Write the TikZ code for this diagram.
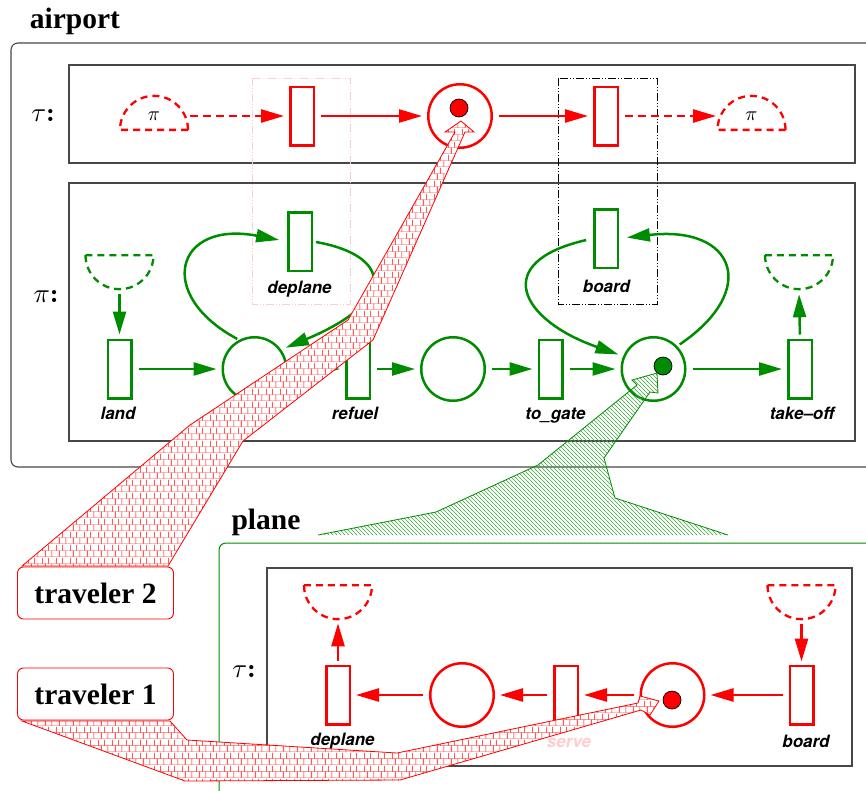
\documentclass[tikz,border=0pt]{standalone}
\usepackage{graphicx}
\usepackage{fontspec}
\newfontfamily\helv{TeX Gyre Heros}
\newfontfamily\tms{Liberation Serif}
\usetikzlibrary{arrows.meta,shapes.geometric,patterns}
\definecolor{pgreen}{RGB}{0,140,0}
\definecolor{hgreen}{RGB}{70,170,70}
\definecolor{lpink}{RGB}{255,205,205}
\definecolor{bpink}{RGB}{255,150,150}
\pgfdeclarepatterninherentlycolored{redbricks}{\pgfpointorigin}{\pgfpoint{14pt}{13pt}}{\pgfpoint{14pt}{13pt}}{%
  \pgfsetlinewidth{0.6pt}%
  \pgfsetcolor{bpink}%
  \pgfpathmoveto{\pgfpoint{0pt}{0.4pt}}\pgfpathlineto{\pgfpoint{14pt}{0.4pt}}%
  \pgfpathmoveto{\pgfpoint{0pt}{6.9pt}}\pgfpathlineto{\pgfpoint{14pt}{6.9pt}}%
  \pgfusepath{stroke}%
  \pgfsetcolor{red}%
  \pgfpathmoveto{\pgfpoint{3.5pt}{0.4pt}}\pgfpathlineto{\pgfpoint{3.5pt}{6.9pt}}%
  \pgfpathmoveto{\pgfpoint{10.5pt}{0.4pt}}\pgfpathlineto{\pgfpoint{10.5pt}{6.9pt}}%
  \pgfpathmoveto{\pgfpoint{0.4pt}{6.9pt}}\pgfpathlineto{\pgfpoint{0.4pt}{13pt}}%
  \pgfpathmoveto{\pgfpoint{7pt}{6.9pt}}\pgfpathlineto{\pgfpoint{7pt}{13pt}}%
  \pgfusepath{stroke}%
}
\pgfdeclarepatterninherentlycolored{greenhatch}{\pgfpoint{-1pt}{-1pt}}{\pgfpoint{5pt}{5pt}}{\pgfpoint{4pt}{4pt}}{%
  \pgfsetlinewidth{0.5pt}%
  \pgfsetcolor{hgreen}%
  \pgfpathmoveto{\pgfpoint{-0.5pt}{4.5pt}}\pgfpathlineto{\pgfpoint{4.5pt}{-0.5pt}}%
  \pgfusepath{stroke}%
}
\tikzset{
  box/.style={draw=black!72, line width=1.1pt},
  trans/.style={rectangle, draw, line width=2.5pt, minimum width=23.5pt, minimum height=58.5pt, inner sep=0pt},
  place/.style={circle, draw, line width=2.5pt, minimum size=63.5pt, inner sep=0pt},
  tok/.style={circle, draw=black, line width=0.7pt, minimum size=18pt, inner sep=0pt},
  half/.style={semicircle, draw, dash pattern=on 7pt off 5pt, line width=2.3pt, minimum width=62pt, minimum height=34pt, inner sep=0pt},
  arrline/.style={line width=2.5pt, -{Triangle[length=23pt,width=13pt]}, shorten >=5pt, shorten <=6pt},
  rarr/.style={arrline, draw=red, color=red},
  garr/.style={arrline, draw=pgreen, color=pgreen},
  lbl/.style={font=\helv\bfseries\itshape\fontsize{17}{17}\selectfont, anchor=base, inner sep=0pt},
  ttl/.style={font=\tms\bfseries\fontsize{29.5}{30}\selectfont, anchor=base, inner sep=0pt},
  mth/.style={inner sep=0pt},
  travbox/.style={draw=red, line width=0.9pt, rounded corners=6pt, minimum width=156pt, minimum height=52pt, inner sep=0pt, font=\tms\bfseries\fontsize{29.5}{30}\selectfont},
}
\newcommand{\biglbl}[1]{\scalebox{2.7}{$#1$\textbf{:}}}
\newcommand{\halflbl}{\scalebox{2}{$\pi$}}
\begin{document}
\begin{tikzpicture}[x=1pt,y=-1pt]
\useasboundingbox (0,0) rectangle (866,790);

% ---------------- airport ----------------
\node[ttl] (tair) at (75,28) {airport};
\draw[box, rounded corners=7pt] (11,43) rectangle (885,467);
\draw[box] (69,65) rectangle (855,163);
\draw[box] (69,183) rectangle (855,441);
\draw[lpink, line width=0.8pt, dash pattern=on 8pt off 2pt on 1pt off 2pt on 1pt off 2pt] (252,78) rectangle (350,304);
\draw[black, line width=0.9pt, dash pattern=on 8pt off 2pt on 1pt off 2pt on 1pt off 2pt] (558,78) rectangle (657,304);
\node[mth] (taulbl) at (43,116) {\biglbl{\tau}};
\node[mth] (pilbl) at (46,296) {\biglbl{\pi}};

% tau row
\node[half, draw=red, anchor=chord center] (pi1) at (154,131) {};
\node[mth] (pi1t) at (154,116) {\halflbl};
\node[trans, draw=red] (t1) at (302,116) {};
\node[place, draw=red] (pa) at (460,116) {};
\node[tok, fill=red] (pat) at (459,108) {};
\node[trans, draw=red] (t2) at (606,116) {};
\node[half, draw=red, anchor=chord center] (pi2) at (751.5,131) {};
\node[mth] (pi2t) at (751.5,116) {\halflbl};
\draw[rarr, dash pattern=on 8pt off 5pt, shorten <=4pt] (pi1.east |- t1.west) -- (t1.west);
\draw[rarr] (t1) -- (pa);
\draw[rarr] (pa) -- (t2);
\draw[rarr, dash pattern=on 8pt off 5pt, shorten >=3pt] (t2.east) -- (pi2.west |- t2.east);

% pi row
\node[half, draw=pgreen, shape border rotate=180, anchor=chord center] (gh1) at (119.5,254) {};
\node[trans, draw=pgreen] (land) at (119.5,369) {};
\node[place, draw=pgreen] (p1) at (254.5,369) {};
\node[trans, draw=pgreen] (dep) at (300,241.5) {};
\node[trans, draw=pgreen] (refuel) at (358,369) {};
\node[place, draw=pgreen] (p2) at (453,369) {};
\node[trans, draw=pgreen] (togate) at (550.5,369) {};
\node[place, draw=pgreen] (p3) at (653.5,369) {};
\node[tok, fill=pgreen] (p3t) at (663,366) {};
\node[trans, draw=pgreen] (board) at (606,238.5) {};
\node[trans, draw=pgreen] (takeoff) at (800,369) {};
\node[half, draw=pgreen, shape border rotate=180, anchor=chord center] (gh2) at (799,254) {};

\node[lbl] (lland) at (118,419) {land};
\node[lbl] (ldep) at (299.5,293) {deplane};
\node[lbl] (lrefuel) at (355,419) {refuel};
\node[lbl] (ltogate) at (555.5,419) {to\_gate};
\node[lbl] (lboard) at (606.5,292) {board};
\node[lbl] (ltake) at (802,419) {take–off};

\draw[garr, shorten <=4pt, shorten >=4pt] (gh1.apex) -- (land.north);
\draw[garr] (land) -- (p1);
\draw[garr] (p1) -- (refuel);
\draw[garr] (refuel) -- (p2);
\draw[garr] (p2) -- (togate);
\draw[garr] (togate) -- (p3);
\draw[garr] (p3) -- (takeoff);
\draw[garr, shorten <=4pt, shorten >=4pt] (takeoff.north) -- (gh2.apex);
\draw[garr, shorten >=8pt, shorten <=2pt] (p1.118) .. controls (155,295) and (175,220) .. (dep.west);
\draw[garr, shorten <=3pt] (dep.east) .. controls (390,255) and (400,300) .. (p1.36);
\draw[garr, shorten <=7pt] (board.west) .. controls (490,262) and (520,320) .. (p3.157);
\draw[garr, shorten >=8pt, shorten <=3pt] (p3.44) .. controls (760,290) and (735,225) .. (board.east);

% green band (plane -> airport)
\path[pattern=greenhatch] (318,535) -- (436,512) -- (538,465) -- (637,385) -- (632,380) -- (657,373) -- (658,393) -- (650,392) -- (604,458) -- (615,498) -- (728,535) -- cycle;
\draw[pgreen, line width=0.8pt] (318,535) -- (436,512) -- (538,465) -- (637,385) -- (632,380) -- (657,373) -- (658,393) -- (650,392) -- (604,458) -- (615,498) -- (728,535);

% ---------------- plane ----------------
\node[ttl] (tplane) at (266,529) {plane};
\draw[pgreen, line width=1pt, rounded corners=7pt] (219,543) rectangle (900,820);
\draw[box] (267,568) rectangle (852,766);
\node[mth] (taulbl2) at (244,671) {\biglbl{\tau}};

\node[half, draw=red, shape border rotate=180, anchor=chord center] (r1) at (338,584) {};
\node[trans, draw=red] (dep2) at (338,695) {};
\node[place, draw=red] (q1) at (462,695) {};
\node[trans, draw=red] (serve) at (566,695) {};
\node[place, draw=red] (q2) at (672.5,695) {};
\node[tok, fill=red] (q2t) at (672,700) {};
\node[trans, draw=red] (board2) at (801.5,695) {};
\node[half, draw=red, shape border rotate=180, anchor=chord center] (r2) at (801.5,584) {};

\node[lbl] (ldep2) at (342.5,745) {deplane};
\node[lbl, text=lpink] (lserve) at (569,747) {serve};
\node[lbl] (lboard2) at (806,747) {board};

\draw[rarr, shorten <=4pt, shorten >=3pt] (dep2.north) -- (r1.apex);
\draw[rarr] (q1) -- (dep2);
\draw[rarr] (serve) -- (q1);
\draw[rarr] (q2) -- (serve);
\draw[rarr] (board2) -- (q2);
\draw[rarr, shorten <=4pt, shorten >=3pt] (r2.apex) -- (board2.north);

% travelers
\node[travbox] (trav2) at (95.5,593) {traveler 2};
\node[travbox] (trav1) at (95.5,694) {traveler 1};

% red bands
\path[preaction={fill=white}, pattern=redbricks, draw=red, line width=0.8pt]
  (22,566) -- (190,425) -- (348,320) -- (455,132) -- (445,132) -- (461,121) -- (474,132) -- (465,132) -- (373,340) -- (243,441) -- (168,566) -- cycle;
\path[preaction={fill=white}, pattern=redbricks, draw=red, line width=0.8pt]
  (22,721) -- (185,781) -- (400,780) -- (641,710) -- (650,715) -- (659,701) -- (640,696) -- (638,703) -- (397,753) -- (187,740) -- (170,721) -- cycle;
\end{tikzpicture}
\end{document}
